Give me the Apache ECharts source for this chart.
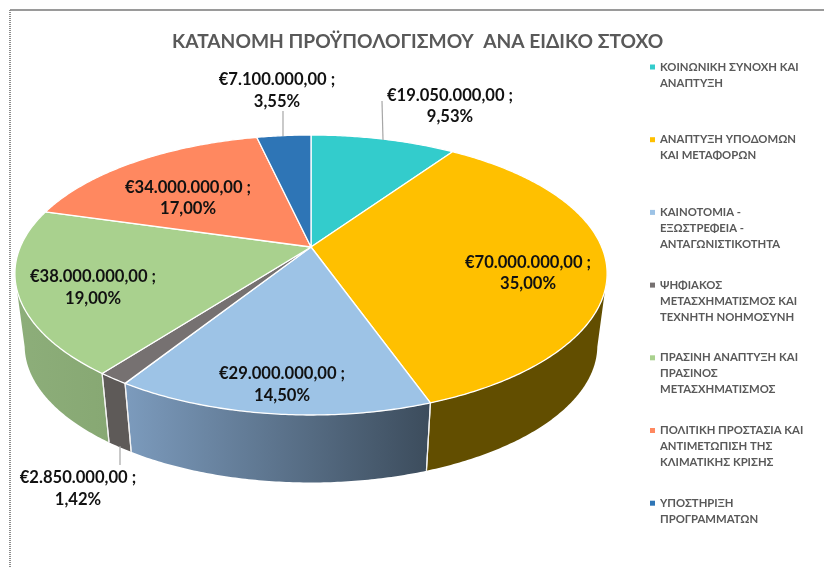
<!DOCTYPE html>
<html><head><meta charset="utf-8">
<style>html,body{margin:0;padding:0;background:#fff}#c{width:824px;height:567px}</style>
<script src="https://cdn.jsdelivr.net/npm/echarts@6/dist/echarts.min.js"></script>
</head><body><div id="c"></div>
<script>
var titleText = 'ΚΑΤΑΝΟΜΗ ΠΡΟΫΠΟΛΟΓΙΣΜΟΥ  ΑΝΑ ΕΙΔΙΚΟ ΣΤΟΧΟ';
var categories = ['ΚΟΙΝΩΝΙΚΗ ΣΥΝΟΧΗ ΚΑΙ ΑΝΑΠΤΥΞΗ','ΑΝΑΠΤΥΞΗ ΥΠΟΔΟΜΩΝ ΚΑΙ ΜΕΤΑΦΟΡΩΝ','ΚΑΙΝΟΤΟΜΙΑ - ΕΞΩΣΤΡΕΦΕΙΑ - ΑΝΤΑΓΩΝΙΣΤΙΚΟΤΗΤΑ','ΨΗΦΙΑΚΟΣ ΜΕΤΑΣΧΗΜΑΤΙΣΜΟΣ ΚΑΙ ΤΕΧΝΗΤΗ ΝΟΗΜΟΣΥΝΗ','ΠΡΑΣΙΝΗ ΑΝΑΠΤΥΞΗ ΚΑΙ ΠΡΑΣΙΝΟΣ ΜΕΤΑΣΧΗΜΑΤΙΣΜΟΣ','ΠΟΛΙΤΙΚΗ ΠΡΟΣΤΑΣΙΑ ΚΑΙ ΑΝΤΙΜΕΤΩΠΙΣΗ ΤΗΣ ΚΛΙΜΑΤΙΚΗΣ ΚΡΙΣΗΣ','ΥΠΟΣΤΗΡΙΞΗ ΠΡΟΓΡΑΜΜΑΤΩΝ'];
var legendLines = [['ΚΟΙΝΩΝΙΚΗ ΣΥΝΟΧΗ ΚΑΙ','ΑΝΑΠΤΥΞΗ'],['ΑΝΑΠΤΥΞΗ ΥΠΟΔΟΜΩΝ','ΚΑΙ ΜΕΤΑΦΟΡΩΝ'],['ΚΑΙΝΟΤΟΜΙΑ -','ΕΞΩΣΤΡΕΦΕΙΑ -','ΑΝΤΑΓΩΝΙΣΤΙΚΟΤΗΤΑ'],['ΨΗΦΙΑΚΟΣ','ΜΕΤΑΣΧΗΜΑΤΙΣΜΟΣ ΚΑΙ','ΤΕΧΝΗΤΗ ΝΟΗΜΟΣΥΝΗ'],['ΠΡΑΣΙΝΗ ΑΝΑΠΤΥΞΗ ΚΑΙ','ΠΡΑΣΙΝΟΣ','ΜΕΤΑΣΧΗΜΑΤΙΣΜΟΣ'],['ΠΟΛΙΤΙΚΗ ΠΡΟΣΤΑΣΙΑ ΚΑΙ','ΑΝΤΙΜΕΤΩΠΙΣΗ ΤΗΣ','ΚΛΙΜΑΤΙΚΗΣ ΚΡΙΣΗΣ'],['ΥΠΟΣΤΗΡΙΞΗ','ΠΡΟΓΡΑΜΜΑΤΩΝ']];
var values = [19050000,70000000,29000000,2850000,38000000,34000000,7100000];
var percentLabels = ['9,53%','35,00%','14,50%','1,42%','19,00%','17,00%','3,55%'];
var topColors = ['#33CCCC','#FFC000','#9DC3E6','#767171','#A9D18E','#FF8860','#2E75B6'];
var wallLeft = ['#29A3A3','#624E00','#7C9BBD','#5E5A58','#8DAE7A','#CC6D4D','#245E92'];
var wallRight = ['#29A3A3','#624E00','#3C4C5C','#5E5A58','#87A873','#CC6D4D','#245E92'];
var labelCenters = [[450,106],[528,273],[282,384.5],[78,488.5],[93,287.5],[188,198],[277,90.5]];
var leaders = [[[383,140],[382,101]],null,null,[[120,446],[120,465]],null,null,[[283,136],[283,111]]];

var total = values.reduce(function(a,b){return a+b;},0);
var cumulative = [];
values.reduce(function(a,b,i){cumulative[i]=a;return a+b;},0);
function euro(v){
  return '€' + String(v).replace(/\B(?=(\d{3})+$)/g,'.') + ',00 ;';
}
// perspective projection of the tilted disc
var CX=311, TOPY=247, A=290.7, B=134.4, K=0.2, KX=0.19, DEPTH=320, BS=0.967;
function proj(theta, bottom){
  var u=Math.sin(theta), v=Math.cos(theta), s=bottom?BS:1;
  return [CX+A*s*u/(1+KX*v), (bottom?DEPTH:TOPY)-B*s*v/(1+K*v)];
}
function arcPts(a0,a1,bottom){
  var n=Math.max(2,Math.ceil(Math.abs(a1-a0)/0.01)), out=[];
  for(var i=0;i<=n;i++) out.push(proj(a0+(a1-a0)*i/n,bottom));
  return out;
}
var VIS0=Math.PI-Math.acos(K), VIS1=Math.PI+Math.acos(K);
function makeRender(idx){
  return function(params, api){
    var v=api.value(0);
    var a0=cumulative[idx]/total*Math.PI*2, a1=(cumulative[idx]+v)/total*Math.PI*2;
    var kids=[];
    var w0=Math.max(a0,VIS0), w1=Math.min(a1,VIS1);
    if(w1>w0){
      var topArc=arcPts(w0,w1,false), botArc=arcPts(w0,w1,true);
      kids.push({type:'polygon',z2:1,shape:{points:topArc.concat(botArc.slice().reverse())},
        style:{fill:new echarts.graphic.LinearGradient(0,0,1,0,[{offset:0,color:wallLeft[idx]},{offset:1,color:wallRight[idx]}])}});
      [a0,a1].forEach(function(a){
        if(a>VIS0 && a<VIS1){
          var p=proj(a,false), q=proj(a,true);
          kids.push({type:'line',z2:2,shape:{x1:p[0],y1:p[1],x2:q[0],y2:q[1]},style:{stroke:'#F2F2F2',lineWidth:1.2}});
        }
      });
    }
    var pts=[[CX,TOPY]].concat(arcPts(a0,a1,false));
    kids.push({type:'polygon',z2:5,shape:{points:pts},style:{fill:topColors[idx],stroke:'#fff',lineWidth:1.3,lineJoin:'round'}});
    if(leaders[idx]){
      kids.push({type:'line',z2:6,shape:{x1:leaders[idx][0][0],y1:leaders[idx][0][1],x2:leaders[idx][1][0],y2:leaders[idx][1][1]},style:{stroke:'#A6A6A6',lineWidth:1.2}});
    }
    kids.push({type:'text',z2:10,style:{text:euro(v)+'\n'+percentLabels[idx],x:labelCenters[idx][0],y:labelCenters[idx][1],align:'center',verticalAlign:'middle',
      font:'bold 16.6px Lato, "Open Sans", sans-serif',lineHeight:21.5,fill:'#111'}});
    return {type:'group',children:kids};
  };
}
var series = categories.map(function(name,i){
  return {type:'custom',name:name,coordinateSystem:'none',data:[[values[i]]],renderItem:makeRender(i),silent:true,animation:false,
    itemStyle:{color:topColors[i]},z:2};
});
var chart = echarts.init(document.getElementById('c'),null,{renderer:'canvas'});
chart.setOption({
  animation:false,
  backgroundColor:'#fff',
  title:{text:titleText,left:172,top:32,padding:0,textStyle:{fontFamily:'Lato, "Open Sans", sans-serif',fontWeight:'bold',fontSize:19.2,color:'#595959'}},
  legend:{orient:'vertical',left:650,top:27,padding:0,itemWidth:5,itemHeight:5,itemGap:-7.3,icon:'rect',selectedMode:false,
    data:categories,
    formatter:function(name){
      var l=legendLines[categories.indexOf(name)], t=['','',l[0],l[1],l[2]||''];
      return t.join('\n');
    },
    textStyle:{fontFamily:'Lato, "Open Sans", sans-serif',fontWeight:'bold',fontSize:11.3,lineHeight:16,color:'#595959'}},
  graphic:[
    {type:'line',shape:{x1:10,y1:10,x2:824,y2:10},style:{stroke:'#9A9A9A',lineWidth:2},silent:true},
    {type:'line',shape:{x1:10,y1:10,x2:10,y2:567},style:{stroke:'#8C8C8C',lineWidth:2,lineDash:[1,1]},silent:true}
  ],
  series:series
});
</script></body></html>
